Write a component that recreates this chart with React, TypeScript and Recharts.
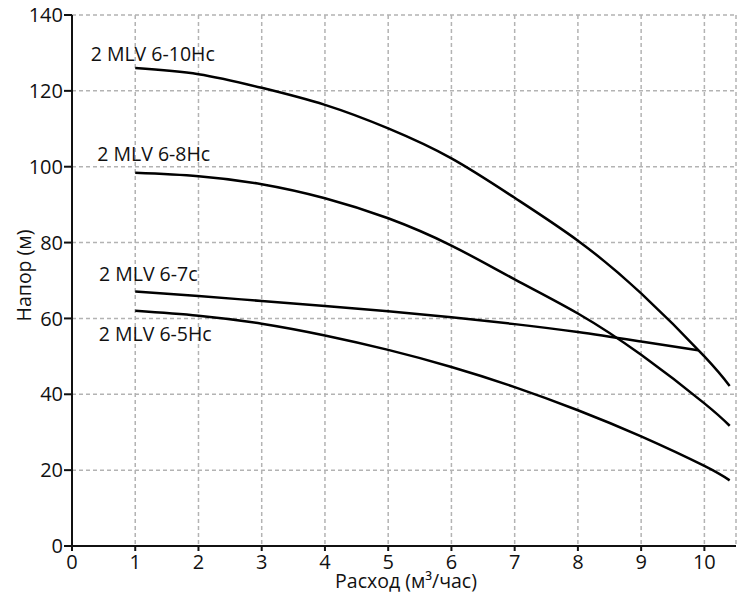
import React from 'react';
import { LineChart, Line, XAxis, YAxis, CartesianGrid, LabelList } from 'recharts';

const flow = [1, 2, 3, 4, 5, 6, 7, 8, 9, 10, 10.4];
const flow7c = [1, 2, 3, 4, 5, 6, 7, 8, 9, 9.9];

const head10Hc = [126, 124.4, 120.8, 116.3, 110.1, 102.2, 91.8, 80.5, 66.6, 50.0, 42.2];
const head8Hc = [98.4, 97.5, 95.4, 91.7, 86.4, 79.2, 70.3, 61.3, 50.4, 37.6, 31.7];
const head7c = [67.1, 65.9, 64.6, 63.3, 61.9, 60.3, 58.5, 56.4, 53.9, 51.6];
const head5Hc = [62.0, 60.7, 58.6, 55.5, 51.7, 47.2, 41.9, 35.8, 28.9, 21.1, 17.3];

const names = ['2 MLV 6-10Hc', '2 MLV 6-8Hc', '2 MLV 6-7c', '2 MLV 6-5Hc'];
const xTicks = [0, 1, 2, 3, 4, 5, 6, 7, 8, 9, 10];
const yTicks = [0, 20, 40, 60, 80, 100, 120, 140];

const toPoints = (xs: number[], ys: number[]) => xs.map((x, i) => ({ x, y: ys[i] }));

const series = [
  { name: names[0], data: toPoints(flow, head10Hc), dx: 17.5, dy: -7.5 },
  { name: names[1], data: toPoints(flow, head8Hc), dx: 18.5, dy: -12 },
  { name: names[2], data: toPoints(flow7c, head7c), dx: 13, dy: -10.5 },
  { name: names[3], data: toPoints(flow, head5Hc), dx: 20, dy: 30.5 },
];

const FONT = '"Open Sans", "Noto Sans", sans-serif';

const seriesLabel = (name: string, dx: number, dy: number) => (props: any) => {
  if (props.index !== 0) return null;
  return (
    <text x={props.x + dx} y={props.y + dy} textAnchor="middle" fontSize={19.5} fill="#111" fontFamily={FONT}>
      {name}
    </text>
  );
};

const YTitle = (props: any) => {
  const { x, y, height } = props.viewBox;
  const cx = x + 23;
  const cy = y + height / 2 - 5;
  return (
    <text x={cx} y={cy} transform={`rotate(-90, ${cx}, ${cy})`} textAnchor="middle" dominantBaseline="central"
      fontSize={19.5} fill="#111" fontFamily={FONT}>
      Напор (м)
    </text>
  );
};

const XTitle = (props: any) => {
  const { x, y, width } = props.viewBox;
  return (
    <text x={x + width / 2 + 2} y={y + 42} textAnchor="middle" fontSize={19.5} fill="#111" fontFamily={FONT}>
      Расход (м³/час)
    </text>
  );
};

export default function App() {
  const tickStyle = { fontSize: 20, fill: '#111', fontFamily: FONT };
  return (
    <div style={{ position: 'absolute', left: 0, top: 0, width: 741, height: 594, background: '#fff' }}>
      <LineChart width={741} height={594} margin={{ top: 15, right: 5, bottom: 0, left: 0 }}>
        <CartesianGrid stroke="#b3b3b3" strokeWidth={1.5} strokeDasharray="4 3" />
        <XAxis
          type="number"
          dataKey="x"
          domain={[0, 10.5]}
          ticks={xTicks}
          allowDataOverflow
          height={48}
          stroke="#111"
          strokeWidth={2}
          tickSize={5}
          tickMargin={4}
          tick={tickStyle}
          label={<XTitle />}
        />
        <YAxis
          type="number"
          dataKey="y"
          domain={[0, 140]}
          ticks={yTicks}
          width={72}
          stroke="#111"
          strokeWidth={2}
          tickSize={8}
          tickMargin={1}
          tick={tickStyle}
          label={<YTitle />}
        />
        {series.map((s) => (
          <Line
            key={s.name}
            data={s.data}
            dataKey="y"
            type="natural"
            stroke="#000"
            strokeWidth={2.5}
            dot={false}
            activeDot={false}
            isAnimationActive={false}
          >
            <LabelList dataKey="y" content={seriesLabel(s.name, s.dx, s.dy)} />
          </Line>
        ))}
      </LineChart>
    </div>
  );
}
